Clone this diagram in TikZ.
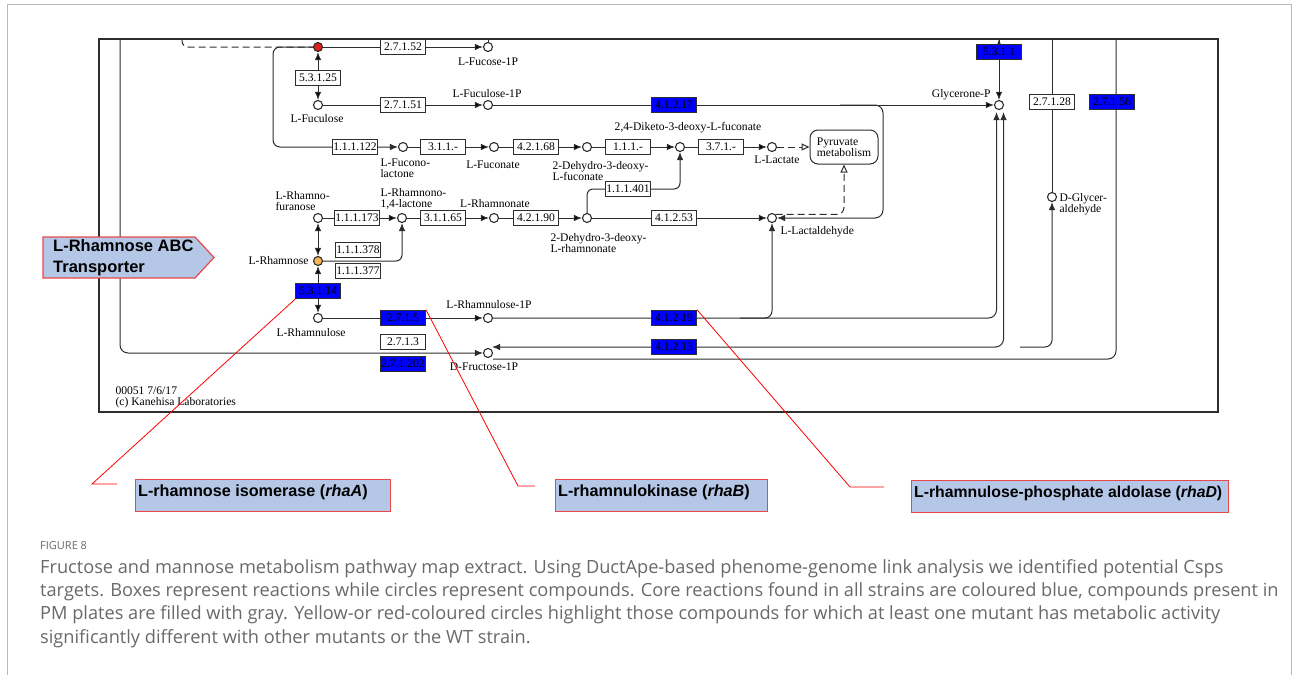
\documentclass[tikz,border=0pt]{standalone}
\usepackage{fontspec}
\setmainfont{Liberation Serif}
\newfontfamily\arialfont{Liberation Sans}
\newfontfamily\capfont{Open Sans}
\usetikzlibrary{positioning, arrows.meta, backgrounds}

\definecolor{keggblue}{RGB}{0,0,255}
\definecolor{mapline}{RGB}{45,45,45}
\definecolor{rhaorange}{RGB}{246,182,86}
\definecolor{fucred}{RGB}{222,32,32}
\definecolor{boxfill}{RGB}{180,199,231}
\definecolor{boxedge}{RGB}{232,72,72}
\definecolor{capgray}{RGB}{105,105,105}

\begin{document}
\begin{tikzpicture}[x=1pt, y=-1pt, >={Latex[length=8pt, width=6.5pt]}, line width=1pt,
    cpd/.style={circle, draw=mapline, line width=1.1pt, fill=white, inner sep=0pt, minimum size=9pt},
    enz/.style={draw=mapline, line width=1pt, fill=white, inner sep=0pt, minimum width=45pt, minimum height=15.5pt, font=\fontsize{11.6}{11}\selectfont},
    core/.style={enz, fill=keggblue},
    lbl/.style={inner sep=0pt, font=\fontsize{11.6}{11}\selectfont, align=left},
    link/.style={draw=mapline, line width=1pt},
    plink/.style={link, dash pattern=on 7pt off 4pt},
    gene/.style={draw=boxedge, line width=1.2pt, fill=boxfill, anchor=north west, inner xsep=2.5pt, inner ysep=3pt, text height=14pt, text depth=12pt, font=\arialfont\bfseries\fontsize{16.2}{18}\selectfont},
    lead/.style={draw=red, line width=0.8pt},
    capline/.style={anchor=base west, inner sep=0pt, text=capgray, font=\capfont\fontsize{18.2}{23}\selectfont}]
  \useasboundingbox (0,0) rectangle (1293,675);

  % page and map frames
  \draw[gray!55, line width=1pt] (7,675) -- (7,4) -- (1291,4) -- (1291,675);
  \draw[mapline, line width=2pt] (99,39) rectangle (1218,412);

  % compounds
  \node[cpd, fill=fucred] (fuc) at (318,47) {};
  \node[cpd] (fuc1p) at (488,47) {};
  \node[cpd] (fucul) at (318,105) {};
  \node[cpd] (fucul1p) at (488,105) {};
  \node[cpd] (fuclac) at (403,147) {};
  \node[cpd] (fucon) at (494,147) {};
  \node[cpd] (ddfucon) at (587,147) {};
  \node[cpd] (dkdf) at (680,147) {};
  \node[cpd] (lact) at (772,147) {};
  \node[cpd] (glyp) at (999,105) {};
  \node[cpd] (glyald) at (1052,197) {};
  \node[cpd] (rhaf) at (318,218) {};
  \node[cpd] (rhalac) at (402,218) {};
  \node[cpd] (rhaon) at (494,218) {};
  \node[cpd] (ddrha) at (587,218) {};
  \node[cpd] (lald) at (772,218) {};
  \node[cpd, fill=rhaorange] (rha) at (318,261) {};
  \node[cpd] (rhau) at (318,318) {};
  \node[cpd] (rhau1p) at (488,318) {};
  \node[cpd] (fru1p) at (488,353) {};

  % reactions
  \node[enz] (e27152) at (403,47) {2.7.1.52};
  \node[enz] (e53125) at (318,78) {5.3.1.25};
  \node[enz] (e27151) at (403,105) {2.7.1.51};
  \node[core] (e41217) at (674,105) {4.1.2.17};
  \node[enz] (e111122) at (355,147) {1.1.1.122};
  \node[enz] (e311) at (443,147) {3.1.1.-};
  \node[enz] (e42168) at (536,147) {4.2.1.68};
  \node[enz] (e111) at (628,147) {1.1.1.-};
  \node[enz] (e371) at (721,147) {3.7.1.-};
  \node[enz] (e111401) at (628,189) {1.1.1.401};
  \node[enz] (e111173) at (357,218) {1.1.1.173};
  \node[enz] (e31165) at (443,218) {3.1.1.65};
  \node[enz] (e42190) at (536,218) {4.2.1.90};
  \node[enz] (e41253) at (674,218) {4.1.2.53};
  \node[enz] (e111378) at (358,250) {1.1.1.378};
  \node[enz] (e111377) at (358,271) {1.1.1.377};
  \node[core] (e53114) at (318,291) {5.3.1.14};
  \node[core] (e2715) at (403,318) {2.7.1.5};
  \node[core] (e41219) at (674,318) {4.1.2.19};
  \node[enz] (e2713) at (403,342) {2.7.1.3};
  \node[core] (e271202) at (403,364) {2.7.1.202};
  \node[core] (e41213) at (674,347) {4.1.2.13};
  \node[core] (e5311) at (999,52) {5.3.1.1};
  \node[enz] (e27128) at (1052,102) {2.7.1.28};
  \node[core] (e27156) at (1112,102) {2.7.1.56};
  \node[draw=mapline, line width=1pt, fill=white, rounded corners=8pt, minimum width=68pt, minimum height=34pt, lbl] (pyr) at (844,147) {Pyruvate\\metabolism};

  % compound labels
  \node[lbl] (tfuc1p) at (488,62) {L-Fucose-1P};
  \node[lbl] (tfucul) at (317,119) {L-Fuculose};
  \node[lbl] (tfucul1p) at (487,94) {L-Fuculose-1P};
  \node[lbl, anchor=west] (tfuclac) at (380,168) {L-Fucono-\\lactone};
  \node[lbl] (tfucon) at (493,165) {L-Fuconate};
  \node[lbl, anchor=west] (tddfucon) at (552,171) {2-Dehydro-3-deoxy-\\L-fuconate};
  \node[lbl] (tdkdf) at (688,128) {2,4-Diketo-3-deoxy-L-fuconate};
  \node[lbl] (tlact) at (777,160) {L-Lactate};
  \node[lbl, anchor=east] (tglyp) at (991,95) {Glycerone-P};
  \node[lbl, anchor=west] (tglyald) at (1059,204) {D-Glycer-\\aldehyde};
  \node[lbl, anchor=west] (trhaf) at (275,201) {L-Rhamno-\\furanose};
  \node[lbl, anchor=west] (trhalac) at (380,199) {L-Rhamnono-\\1,4-lactone};
  \node[lbl] (trhaon) at (495,204) {L-Rhamnonate};
  \node[lbl, anchor=west] (tddrha) at (550,243) {2-Dehydro-3-deoxy-\\L-rhamnonate};
  \node[lbl, anchor=west] (tlald) at (780,232) {L-Lactaldehyde};
  \node[lbl, anchor=east] (trha) at (309,261) {L-Rhamnose};
  \node[lbl] (trhau) at (311,333) {L-Rhamnulose};
  \node[lbl] (trhau1p) at (489,305) {L-Rhamnulose-1P};
  \node[lbl] (tfru1p) at (484,367) {D-Fructose-1P};
  \node[lbl, anchor=west] (stamp) at (115,397) {00051 7/6/17\\(c) Kanehisa Laboratories};

  % junctions on the map
  \coordinate (dtop) at (182,39);
  \coordinate (ftick) at (488,39);
  \coordinate (cfl) at (273,147);
  \coordinate (j1) at (840,105);
  \coordinate (jr) at (883,218);
  \coordinate (j2) at (740,318);
  \coordinate (g1) at (996.5,112);
  \coordinate (g2) at (1003.5,112);
  \coordinate (ftop) at (120,39);
  \coordinate (f2) at (492,347);
  \coordinate (f3) at (493,359);
  \coordinate (j3) at (1020,347);
  \coordinate (gtop1) at (999,39);
  \coordinate (gtop3) at (1052,39);
  \coordinate (gtop4) at (1116,39);

  \begin{pgfonlayer}{background}
    \path[->, link]
      (fuc) edge (fuc1p)
      (fucul) edge (fucul1p)
      (fucul1p) edge (glyp)
      (fuclac) edge (fucon)
      (fucon) edge (ddfucon)
      (ddfucon) edge (dkdf)
      (dkdf) edge (lact)
      (rhaf) edge (rhalac)
      (rhalac) edge (rhaon)
      (rhaon) edge (ddrha)
      (ddrha) edge (lald)
      (rhau) edge (rhau1p)
      (gtop1) edge (glyp)
      (fuc) edge [<->] (fucul)
      (rhaf) edge [<->] (rha)
      (rha) edge [<->] (rhau)
    ;
    \draw[link] (fuc1p) -- (ftick);
    \draw[plink, rounded corners=6pt] (dtop) |- (fuc);
    \draw[->, link, rounded corners=7pt] (fuc) -| (cfl) -- (fuclac);
    \draw[->, link, rounded corners=8pt] (j1) -| (jr) -- (lald);
    \draw[plink, -{Triangle[open, length=8pt, width=7pt]}] (lact) -- (pyr);
    \draw[plink, rounded corners=7pt, -{Triangle[open, length=8pt, width=7pt]}] (lald.north east) -| (pyr);
    \draw[->, link, rounded corners=6pt] (ddrha) |- (e111401) -| (dkdf);
    \draw[->, link, rounded corners=6pt] (rha) -| (rhalac);
    \draw[->, link, rounded corners=8pt] (rhau1p) -| (g1);
    \draw[->, link, rounded corners=7pt] (j2) -| (lald);
    \draw[->, link, rounded corners=8pt] (ftop) |- (fru1p);
    \draw[<->, link, rounded corners=8pt] (g2) |- (f2);
    \draw[->, link, rounded corners=7pt] (j3) -| (glyald);
    \draw[link] (gtop3) -- (glyald);
    \draw[link, rounded corners=8pt] (f3) -| (gtop4);
  \end{pgfonlayer}

  % transporter
  \draw[draw=boxedge, fill=boxfill, line width=1.2pt] (43,237) -- (195,237) -- (214,257.5) -- (195,278) -- (43,278) -- cycle;
  \node[anchor=west, align=left, inner sep=0pt, font=\arialfont\bfseries\fontsize{16.5}{21}\selectfont] (abc) at (53,258) {L-Rhamnose ABC\\Transporter};

  % gene call-outs
  \node[gene] (rhaA) at (135,479) {\makebox[250pt][l]{L-rhamnose isomerase (\textit{rhaA})}};
  \node[gene] (rhaB) at (555,479) {\makebox[207pt][l]{L-rhamnulokinase (\textit{rhaB})}};
  \node[gene, font=\arialfont\bfseries\fontsize{15.8}{18}\selectfont] (rhaD) at (911,480) {\makebox[312pt][l]{L-rhamnulose-phosphate aldolase (\textit{rhaD})}};
  \coordinate (ka1) at (92,484);
  \coordinate (ka2) at (117,484);
  \coordinate (kb1) at (518,486);
  \coordinate (kb2) at (535,486);
  \coordinate (kd1) at (850,487);
  \coordinate (kd2) at (884,487);
  \draw[lead] (e53114.south west) -- (ka1) -- (ka2);
  \draw[lead] (e2715.north east) -- (kb1) -- (kb2);
  \draw[lead] (e41219.north east) -- (kd1) -- (kd2);

  % caption
  \node[capline, font=\capfont\fontsize{11}{12}\selectfont] (fig) at (40,549) {FIGURE 8};
  \node[capline] (cap1) at (40,573) {Fructose and mannose metabolism pathway map extract. Using DuctApe-based phenome-genome link analysis we identified potential Csps};
  \node[capline] (cap2) at (40,596) {targets. Boxes represent reactions while circles represent compounds. Core reactions found in all strains are coloured blue, compounds present in};
  \node[capline] (cap3) at (40,619) {PM plates are filled with gray. Yellow-or red-coloured circles highlight those compounds for which at least one mutant has metabolic activity};
  \node[capline] (cap4) at (40,643) {significantly different with other mutants or the WT strain.};
\end{tikzpicture}
\end{document}
